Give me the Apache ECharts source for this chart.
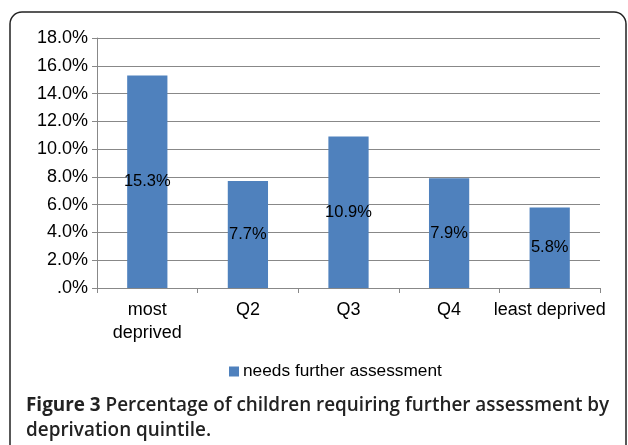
<!DOCTYPE html>
<html>
<head>
<meta charset="utf-8">
<script src="https://cdn.jsdelivr.net/npm/echarts@6/dist/echarts.min.js"></script>
<style>html,body{margin:0;padding:0;background:#fff}#c{width:628px;height:445px}</style>
</head>
<body>
<div id="c"></div>
<script>
const categories = ['most\ndeprived', 'Q2', 'Q3', 'Q4', 'least deprived'];
const values = [15.3, 7.7, 10.9, 7.9, 5.8];
const seriesName = 'needs further assessment';
const captionBold = 'Figure 3';
const captionRest1 = ' Percentage of children requiring further assessment by';
const captionLine2 = 'deprivation quintile.';

const chart = echarts.init(document.getElementById('c'), null, {renderer: 'canvas'});
const font = 'Liberation Sans, Arial, sans-serif';
chart.setOption({
  animation: false,
  backgroundColor: '#fff',
  graphic: [{
    type: 'rect',
    shape: {x: 10, y: 12, width: 616, height: 460, r: 12},
    style: {fill: 'none', stroke: '#222', lineWidth: 1.5},
    silent: true
  }],
  title: {
    left: 21, top: 388,
    text: '{b|' + captionBold + '}{s|' + captionRest1 + '}\n{s|' + captionLine2 + '}',
    textStyle: {
      rich: {
        b: {fontFamily: 'Open Sans', fontWeight: 'bold', fontSize: 18.9, color: '#222', lineHeight: 25},
        s: {fontFamily: 'Open Sans', fontWeight: 600, fontSize: 18.9, color: '#222', lineHeight: 25}
      }
    }
  },
  legend: {
    left: 224, top: 358,
    itemWidth: 10, itemHeight: 10, itemGap: 4,
    icon: 'rect',
    textStyle: {fontFamily: font, fontSize: 17.3, color: '#000', padding: [0, 0, 0, -1]},
    data: [seriesName]
  },
  grid: {left: 97, right: 28, top: 38, bottom: 157, containLabel: false},
  xAxis: {
    type: 'category',
    data: categories,
    axisLine: {lineStyle: {color: '#888', width: 1}},
    axisTick: {show: true, length: 5, lineStyle: {color: '#888'}},
    axisLabel: {fontFamily: font, fontSize: 18, color: '#000', margin: 11, lineHeight: 23, interval: 0}
  },
  yAxis: {
    type: 'value',
    min: 0, max: 18, interval: 2,
    axisLine: {show: true, lineStyle: {color: '#888', width: 1}},
    axisTick: {show: true, length: 5, lineStyle: {color: '#888'}},
    splitLine: {lineStyle: {color: '#888', width: 1}},
    axisLabel: {
      fontFamily: font, fontSize: 18, color: '#000', margin: 9,
      formatter: v => v === 0 ? '.0%' : v.toFixed(1) + '%'
    }
  },
  series: [{
    name: seriesName,
    type: 'bar',
    data: values,
    barWidth: '40%',
    itemStyle: {color: '#4F81BD'},
    label: {
      show: true, position: 'inside',
      fontFamily: font, fontSize: 16.5, color: '#000',
      formatter: p => p.value.toFixed(1) + '%'
    }
  }]
});
</script>
</body>
</html>
